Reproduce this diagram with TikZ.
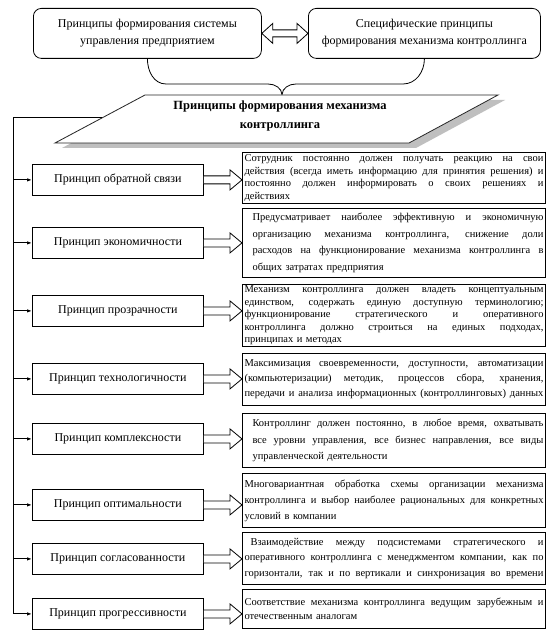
\documentclass[tikz,border=0pt]{standalone}
\usepackage{fontspec}
\setmainfont{Liberation Serif}
\usetikzlibrary{calc,arrows.meta}
\newlength\tw
\setlength\tw{299pt}
\newcommand\Ln[2][0pt]{\hspace*{#1}\hbox to \dimexpr\tw-#1\relax{\spaceskip=.25em plus 1fil\relax #2}}
\newcommand\Lt[2][0pt]{\hspace*{#1}#2}
\newcommand\harrow[2]{%
  \draw[hollow] ($(#1.east)+(0,-4)$) -- ($(#1.east -| #2.west)+(-12,-4)$)
    -- ($(#1.east -| #2.west)+(-12,-10)$) -- ($(#1.east -| #2.west)+(0,0)$)
    -- ($(#1.east -| #2.west)+(-12,10)$) -- ($(#1.east -| #2.west)+(-12,4)$)
    -- ($(#1.east)+(0,4)$);}
\begin{document}
\begin{tikzpicture}[x=1pt,y=-1pt,
  topbox/.style={draw, rounded corners=8pt, line width=0.8pt, anchor=north west,
    align=center, font=\fontsize{12}{17}\selectfont, inner sep=0pt},
  pbox/.style={draw, line width=0.8pt, anchor=north west, minimum width=171pt,
    minimum height=31pt, font=\fontsize{12}{14}\selectfont, inner sep=0pt},
  tbox/.style={draw, line width=1pt, anchor=north west, minimum width=303pt,
    text width=299pt, inner xsep=2pt, inner ysep=1pt, align=left},
  conn/.style={line width=1pt, -{Latex[length=5pt,width=3.5pt]}},
  hollow/.style={line width=0.8pt, fill=white},
  brace/.style={line width=0.8pt}]
\useasboundingbox (0,0) rectangle (552,636);
\fill[white] (0,0) rectangle (552,636);

% top boxes
\node[topbox, minimum width=228pt, minimum height=50pt] (top1) at (33,8)
  {Принципы формирования системы\\управления предприятием};
\node[topbox, minimum width=232pt, minimum height=50pt] (top2) at (308,8)
  {Специфические принципы\\формирования механизма контроллинга};
\draw[hollow] (top1.east) -- ++(11,-10) -- ++(0,6.5) -- ($(top2.west)+(-11,-3.5)$)
  -- ++(0,-6.5) -- (top2.west) -- ++(-11,10) -- ++(0,-6.5)
  -- ($(top1.east)+(11,3.5)$) -- ++(0,6.5) -- cycle;

% brace
\coordinate (bt) at (282,95);
\draw[brace] (top1.south) to[out=-90,in=180] (166,84) -- (268,84)
  to[out=0,in=90] (bt) to[out=90,in=180] (296,84) -- (403,84)
  to[out=0,in=-90] (top2.south);

% parallelogram
\fill[gray!50] (152,100) -- (505,100) -- (416,148) -- (62,148) -- cycle;
\draw[fill=white, draw=gray!30!black, line width=0.8pt]
  (145,95) -- (498,95) -- (409,143) -- (55,143) -- cycle;
\node[font=\fontsize{12.5}{19}\selectfont\bfseries, align=center] (title) at (280,116)
  {Принципы формирования механизма\\контроллинга};
\coordinate (pl) at (102,118);
\coordinate (corner) at (13,118);

% principle boxes
\node[pbox] (L1) at (32,164) {Принцип обратной связи};
\node[pbox] (L2) at (32,227) {Принцип экономичности};
\node[pbox] (L3) at (32,295) {Принцип прозрачности};
\node[pbox] (L4) at (32,363) {Принцип технологичности};
\node[pbox] (L5) at (32,423) {Принцип комплексности};
\node[pbox] (L6) at (32,489) {Принцип оптимальности};
\node[pbox] (L7) at (32,543) {Принцип согласованности};
\node[pbox] (L8) at (32,598) {Принцип прогрессивности};

% text boxes
\node[tbox, minimum height=51pt, font=\fontsize{10.5}{12.5}\selectfont] (T1) at (242,152)
  {\Ln{Сотрудник постоянно должен получать реакцию на свои}\\
   \Ln{действия (всегда иметь информацию для принятия решения) и}\\
   \Ln{постоянно должен информировать о своих решениях и}\\
   \Lt{действиях}};
\node[tbox, minimum height=69pt, font=\fontsize{10.5}{16.5}\selectfont] (T2) at (242,208)
  {\Ln[8pt]{Предусматривает наиболее эффективную и экономичную}\\
   \Ln[8pt]{организацию механизма контроллинга, снижение доли}\\
   \Ln[8pt]{расходов на функционирование механизма контроллинга в}\\
   \Lt[8pt]{общих затратах предприятия}};
\node[tbox, minimum height=62pt, font=\fontsize{10.5}{12.5}\selectfont] (T3) at (242,284)
  {\Ln{Механизм контроллинга должен владеть концептуальным}\\
   \Ln{единством, содержать единую доступную терминологию;}\\
   \Ln{функционирование стратегического и оперативного}\\
   \Ln{контроллинга должно строиться на единых подходах,}\\
   \Lt{принципах и методах}};
\node[tbox, minimum height=52pt, font=\fontsize{10.5}{15}\selectfont] (T4) at (242,353)
  {\Ln{Максимизация своевременности, доступности, автоматизации}\\
   \Ln{(компьютеризации) методик, процессов сбора, хранения,}\\
   \Ln{передачи и анализа информационных (контроллинговых) данных}};
\node[tbox, minimum height=54pt, font=\fontsize{10.5}{16.5}\selectfont] (T5) at (242,413)
  {\Ln[8pt]{Контроллинг должен постоянно, в любое время, охватывать}\\
   \Ln[8pt]{все уровни управления, все бизнес направления, все виды}\\
   \Lt[8pt]{управленческой деятельности}};
\node[tbox, minimum height=54pt, font=\fontsize{10.5}{16}\selectfont] (T6) at (242,473)
  {\Ln{Многовариантная обработка схемы организации механизма}\\
   \Ln{контроллинга и выбор наиболее рациональных для конкретных}\\
   \Lt{условий в компании}};
\node[tbox, minimum height=52pt, font=\fontsize{10.5}{15.5}\selectfont] (T7) at (242,532)
  {\Ln[6pt]{Взаимодействие между подсистемами стратегического и}\\
   \Ln{оперативного контроллинга с менеджментом компании, как по}\\
   \Ln{горизонтали, так и по вертикали и синхронизация во времени}};
\node[tbox, minimum height=39pt, font=\fontsize{10.5}{14}\selectfont] (T8) at (242,589)
  {\Ln{Соответствие механизма контроллинга ведущим зарубежным и}\\
   \Lt{отечественным аналогам}};

% hollow arrows
\harrow{L1}{T1}
\harrow{L2}{T2}
\harrow{L3}{T3}
\harrow{L4}{T4}
\harrow{L5}{T5}
\harrow{L6}{T6}
\harrow{L7}{T7}
\harrow{L8}{T8}

% left spine
\draw[conn] (pl) -- (corner) |- (L8.west);
\foreach \i in {1,...,7} {\draw[conn] (L\i.west -| corner) -- (L\i.west);}
\end{tikzpicture}
\end{document}
